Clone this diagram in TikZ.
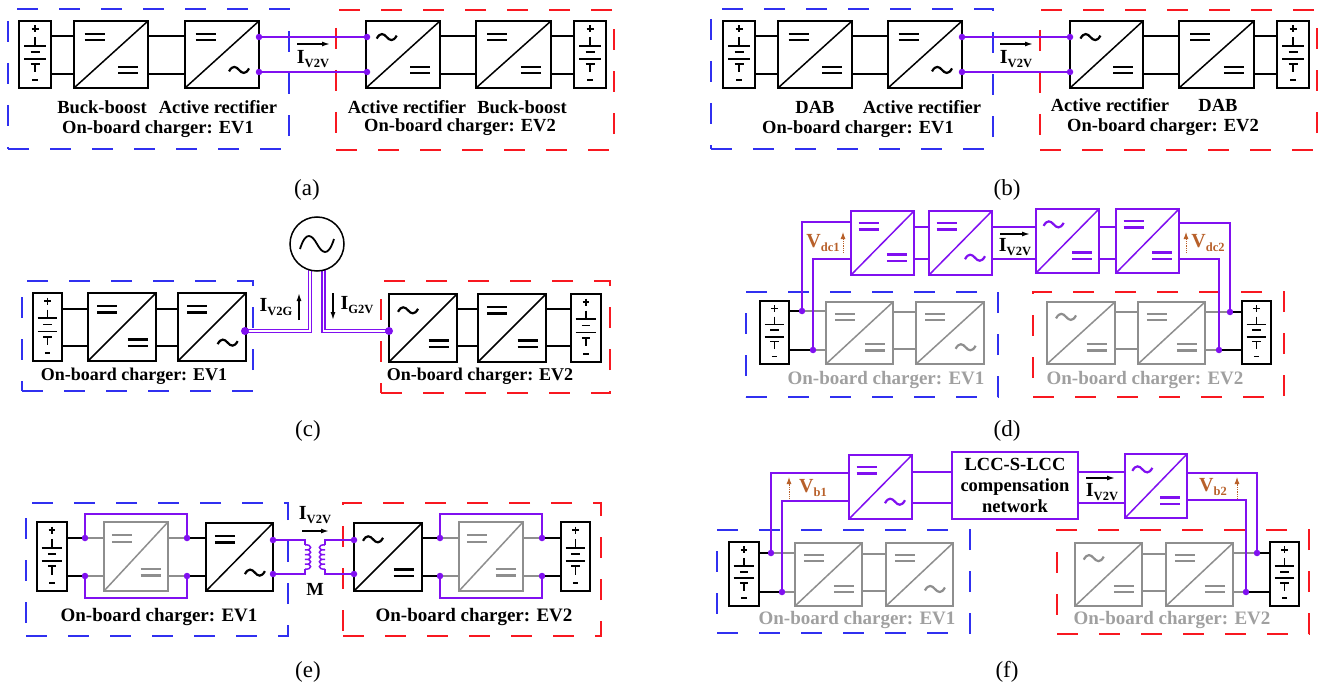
\documentclass[tikz,border=0pt]{standalone}
\usepackage{fontspec}
\setmainfont{Liberation Serif}
\usepackage{xcolor}
\usepackage{tikz}
\usetikzlibrary{calc,arrows.meta}

\definecolor{vio}{HTML}{8010F0}
\definecolor{blueframe}{HTML}{3030F0}
\definecolor{redframe}{HTML}{F81820}
\definecolor{grayline}{HTML}{8E8E8E}
\definecolor{graytext}{HTML}{A0A0A0}
\definecolor{brownv}{HTML}{B8602A}

% converter: name, x, y, w, h, colour, upper symbol, lower symbol
\newcommand{\conv}[8]{%
  \node[convbox,draw=#6,minimum width=#4,minimum height=#5] (#1) at (#2,#3) {};
  \draw[draw=#6,line width=1.5pt] (#1.south west) -- (#1.north east);
  \path ($(#1.north west)!.28!(#1.north east)$) ++(0,.24*#5) pic[color=#6] {#7};
  \path ($(#1.north west)!.73!(#1.north east)$) ++(0,.73*#5) pic[color=#6] {#8};
}
% battery: name, x, y, w, h
\newcommand{\batt}[5]{%
  \node[convbox,draw=black,minimum width=#4,minimum height=#5] (#1) at (#2,#3) {};
  \path (#1.center) pic[xscale=#4/32,yscale=#5/67] {cellsym};
}
\newcommand{\frm}[6]{\node[framebox,draw=#6,minimum width=#4,minimum height=#5] (#1) at (#2,#3) {};}
\newcommand{\pdot}[3]{\node[dotn] (#1) at (#2,#3) {};}
% two horizontal wires between nodes
\newcommand{\links}[5][wire]{%
  \draw[#1] (#2.east |- 0,#4) -- (#3.west |- 0,#4);
  \draw[#1] (#2.east |- 0,#5) -- (#3.west |- 0,#5);
}
\newcommand{\sublab}[2]{{\fontsize{20}{20}\selectfont\bfseries #1}{\fontsize{12.5}{12.5}\selectfont\bfseries\raisebox{-3.5pt}{#2}}}
\newcommand{\coil}[3]{%
  \draw[pwire] (#1,#2) .. controls +(#3,-1) and +(#3,1) .. ++(0,4.8)
    .. controls +(#3,-1) and +(#3,1) .. ++(0,4.8)
    .. controls +(#3,-1) and +(#3,1) .. ++(0,4.8)
    .. controls +(#3,-1) and +(#3,1) .. ++(0,4.8)
    .. controls +(#3,-1) and +(#3,1) .. ++(0,4.8);
}

\begin{document}
\begin{tikzpicture}[
  x=1pt,y=-1pt,
  convbox/.style={rectangle,fill=white,line width=1.5pt,anchor=north west,inner sep=0,outer sep=0},
  framebox/.style={rectangle,line width=1.3pt,dash pattern=on 21pt off 21pt,anchor=north west,inner sep=0,outer sep=0},
  dotn/.style={circle,fill=vio,inner sep=0,minimum size=6.5pt},
  wire/.style={line width=1.5pt},
  gwire/.style={line width=1.5pt,grayline},
  pwire/.style={line width=1.5pt,vio},
  pdouble/.style={draw=vio,line width=1.6pt,double=white,double distance=1.6pt},
  lab/.style={font=\bfseries\fontsize{18.5}{18.5}\selectfont},
  lablg/.style={font=\bfseries\fontsize{19}{19}\selectfont},
  labsm/.style={font=\bfseries\fontsize{18}{18}\selectfont},
  glab/.style={lablg,text=graytext},
  figcap/.style={font=\fontsize{23}{23}\selectfont},
  iarrow/.style={-{Latex[length=8pt,width=5pt]},line width=1.5pt},
  varrow/.style={-{Latex[length=7pt,width=5pt]},line width=.9pt,brownv,densely dotted},
  vlab/.style={text=brownv},
  dcsym/.pic={\draw[line width=2.2pt] (-10,-3.2) -- (10,-3.2) (-10,3.2) -- (10,3.2);},
  acsym/.pic={\draw[line width=2.2pt] (-10,1.5) .. controls (-6.5,-5) and (-3,-3.5) .. (0,0) .. controls (3,3.5) and (6.5,5) .. (10,-1.5);},
  bigac/.pic={\draw[line width=1.8pt] (-17,5) .. controls (-11,-14) and (-5,-9) .. (0,0) .. controls (5,9) and (11,14) .. (17,-5);},
  cellsym/.pic={\draw[line width=1.8pt]
    (-3.5,-25.5) -- (3.5,-25.5) (0,-29) -- (0,-22)
    (0,-17) -- (0,-8.5) (-11,-8.5) -- (11,-8.5)
    (-4.5,-2.5) -- (4.5,-2.5) (-11,4.5) -- (11,4.5)
    (-4.5,9.5) -- (4.5,9.5) (0,9.5) -- (0,18)
    (-3,25.5) -- (3,25.5);}
]
\useasboundingbox (0,0) rectangle (1318,685);

% (a) frames first, everything else on top
\frm{aev1}{8}{9}{281}{140}{blueframe}
\frm{aev2}{336}{10}{278}{140}{redframe}
\batt{abat1}{19}{21}{32}{67}
\conv{aone}{74}{21}{74}{67}{black}{dcsym}{dcsym}
\conv{atwo}{185}{21}{74}{67}{black}{dcsym}{acsym}
\conv{athree}{366}{21}{74}{67}{black}{acsym}{dcsym}
\conv{afour}{476}{21}{75}{67}{black}{dcsym}{dcsym}
\batt{abat2}{574}{21}{32}{67}
\links{abat1}{aone}{36}{74}
\links{aone}{atwo}{36}{74}
\links{athree}{afour}{36}{74}
\links{afour}{abat2}{36}{74}
\pdot{ad1}{259}{37}\pdot{ad2}{259}{72}\pdot{ad3}{367}{37}\pdot{ad4}{367}{72}
\draw[pwire] (ad1) -- (ad3);
\draw[pwire] (ad2) -- (ad4);
\coordinate (aia) at (297,44);
\coordinate (aib) at (330,44);
\draw[iarrow] (aia) -- (aib);
\node (aicur) at (313,59) {\sublab{I}{V2V}};
\node[lab] (abb1) at (102,107) {Buck-boost};
\node[lab] (aar1) at (218,107) {Active rectifier};
\node[lab] (acap1) at (158,129) {On-board charger: EV1};
\node[lab] (aar2) at (407,107) {Active rectifier};
\node[lab] (abb2) at (522,107) {Buck-boost};
\node[lab] (acap2) at (460,127) {On-board charger: EV2};
\node[figcap] (capa) at (307,190) {(a)};

% (b)
\frm{bev1}{711}{9}{282}{140}{blueframe}
\frm{bev2}{1040}{10}{277}{140}{redframe}
\batt{bbat1}{723}{21}{32}{67}
\conv{bone}{778}{21}{74}{67}{black}{dcsym}{dcsym}
\conv{btwo}{888}{21}{74}{67}{black}{dcsym}{acsym}
\conv{bthree}{1070}{21}{73}{67}{black}{acsym}{dcsym}
\conv{bfour}{1179}{21}{75}{67}{black}{dcsym}{dcsym}
\batt{bbat2}{1277}{21}{32}{67}
\links{bbat1}{bone}{36}{74}
\links{bone}{btwo}{36}{74}
\links{bthree}{bfour}{36}{74}
\links{bfour}{bbat2}{36}{74}
\pdot{bd1}{962}{37}\pdot{bd2}{962}{72}\pdot{bd3}{1070}{37}\pdot{bd4}{1070}{72}
\draw[pwire] (bd1) -- (bd3);
\draw[pwire] (bd2) -- (bd4);
\coordinate (bia) at (1000,44);
\coordinate (bib) at (1033,44);
\draw[iarrow] (bia) -- (bib);
\node (bicur) at (1016,59) {\sublab{I}{V2V}};
\node[lab] (bdab1) at (815,107) {DAB};
\node[lab] (bar1) at (922,107) {Active rectifier};
\node[lab] (bcap1) at (858,129) {On-board charger: EV1};
\node[lab] (bar2) at (1110,105) {Active rectifier};
\node[lab] (bdab2) at (1218,105) {DAB};
\node[lab] (bcap2) at (1163,127) {On-board charger: EV2};
\node[figcap] (capb) at (1007,190) {(b)};

% (c) grid link
\frm{cev1}{22}{281}{231}{110}{blueframe}
\frm{cev2}{381}{281}{229}{112}{redframe}
\batt{cbat1}{33}{293}{29}{68}
\conv{cone}{88}{293}{68}{68}{black}{dcsym}{dcsym}
\conv{ctwo}{178}{293}{68}{68}{black}{dcsym}{acsym}
\conv{cthree}{389}{294}{68}{68}{black}{acsym}{dcsym}
\conv{cfour}{478}{294}{68}{68}{black}{dcsym}{dcsym}
\batt{cbat2}{571}{294}{30}{68}
\links{cbat1}{cone}{309}{346}
\links{cone}{ctwo}{309}{346}
\links{cthree}{cfour}{309}{346}
\links{cfour}{cbat2}{309}{346}
\coordinate (cupa) at (310,268);
\coordinate (cupb) at (323.5,268);
\draw[pdouble] (ctwo.east |- 0,331) -| (cupa);
\draw[pdouble] (cthree.west |- 0,331) -| (cupb);
\node[circle,draw,fill=white,line width=1.5pt,minimum size=54pt,inner sep=0] (grid) at (317,244) {};
\path (grid.center) pic {bigac};
\node[dotn,minimum size=8pt] (cd1) at (245,331) {};
\node[dotn,minimum size=8pt] (cd2) at (389,331) {};
\coordinate (cia) at (299,320);
\coordinate (cib) at (299,293);
\draw[iarrow] (cia) -- (cib);
\coordinate (cic) at (333,293);
\coordinate (cid) at (333,320);
\draw[iarrow] (cic) -- (cid);
\node (cv2g) at (276,307) {\sublab{I}{V2G}};
\node (cg2v) at (357,305) {\sublab{I}{G2V}};
\node[labsm] (ccap1) at (134,376) {On-board charger: EV1};
\node[labsm] (ccap2) at (480,376) {On-board charger: EV2};
\node[figcap] (capc) at (308,431) {(c)};

% (d) dc link, on-board stages unused
\frm{dev1}{746}{292}{252}{105}{blueframe}
\frm{dev2}{1033}{292}{251}{105}{redframe}
\batt{dbat1}{760}{301}{29}{63}
\conv{dgone}{826}{302}{67}{62}{grayline}{dcsym}{dcsym}
\conv{dgtwo}{916}{302}{68}{62}{grayline}{dcsym}{acsym}
\conv{dgthree}{1047}{302}{68}{62}{grayline}{acsym}{dcsym}
\conv{dgfour}{1138}{302}{67}{62}{grayline}{dcsym}{dcsym}
\batt{dbat2}{1242}{301}{29}{63}
\conv{done}{851}{211}{63}{64}{vio}{dcsym}{dcsym}
\conv{dtwo}{929}{211}{63}{64}{vio}{dcsym}{acsym}
\conv{dthree}{1036}{209}{63}{64}{vio}{acsym}{dcsym}
\conv{dfour}{1116}{209}{63}{64}{vio}{dcsym}{dcsym}
\links[gwire]{dgone}{dgtwo}{312}{349}
\links[gwire]{dgthree}{dgfour}{312}{349}
\pdot{dd1}{802}{311}\pdot{dd2}{813}{350}\pdot{dd3}{1230}{312}\pdot{dd4}{1219}{350}
\draw[wire] (dbat1.east |- dd1) -- (dd1);
\draw[wire] (dbat1.east |- dd2) -- (dd2);
\draw[gwire] (dd1) -- (dgone.west |- dd1);
\draw[gwire] (dd2) -- (dgone.west |- dd2);
\draw[gwire] (dgfour.east |- dd3) -- (dd3);
\draw[gwire] (dgfour.east |- dd4) -- (dd4);
\draw[wire] (dd3) -- (dbat2.west |- dd3);
\draw[wire] (dd4) -- (dbat2.west |- dd4);
\draw[pwire] (done.west |- 0,222) -| (dd1);
\draw[pwire] (done.west |- 0,259) -| (dd2);
\draw[pwire] (dfour.east |- 0,223) -| (dd3);
\draw[pwire] (dfour.east |- 0,259) -| (dd4);
\links[pwire]{done}{dtwo}{227}{259}
\links[pwire]{dtwo}{dthree}{227}{259}
\links[pwire]{dthree}{dfour}{227}{259}
\coordinate (dia) at (1000,234);
\coordinate (dib) at (1030,234);
\draw[iarrow] (dia) -- (dib);
\node (dicur) at (1015,247) {\sublab{I}{V2V}};
\coordinate (dva) at (843,253);
\coordinate (dvb) at (843,232);
\draw[varrow] (dva) -- (dvb);
\coordinate (dvc) at (1186,253);
\coordinate (dvd) at (1186,232);
\draw[varrow] (dvc) -- (dvd);
\node[vlab] (dv1) at (823,243) {\sublab{V}{dc1}};
\node[vlab] (dv2) at (1208,243) {\sublab{V}{dc2}};
\node[glab] (dcap1) at (886,380) {On-board charger: EV1};
\node[glab] (dcap2) at (1145,380) {On-board charger: EV2};
\node[figcap] (capd) at (1007,431) {(d)};

% (e) inductive link between the two ac stages
\frm{eev1}{26}{503}{262}{133}{blueframe}
\frm{eev2}{343}{503}{258}{133}{redframe}
\batt{ebat1}{37}{522}{30}{69}
\conv{egone}{104}{522}{64}{69}{grayline}{dcsym}{dcsym}
\conv{etwo}{206}{523}{67}{68}{black}{dcsym}{acsym}
\conv{ethree}{354}{523}{68}{68}{black}{acsym}{dcsym}
\conv{egfour}{459}{522}{64}{69}{grayline}{dcsym}{dcsym}
\batt{ebat2}{561}{522}{29}{69}
\pdot{ed1}{85}{538}\pdot{ed2}{85}{576}\pdot{ed3}{187}{538}\pdot{ed4}{187}{576}
\pdot{ed5}{440}{538}\pdot{ed6}{440}{576}\pdot{ed7}{542}{538}\pdot{ed8}{542}{576}
\pdot{ed9}{273}{540}\pdot{ed10}{273}{574}\pdot{ed11}{354}{540}\pdot{ed12}{354}{574}
\draw[wire] (ebat1.east |- ed1) -- (ed1);
\draw[wire] (ebat1.east |- ed2) -- (ed2);
\draw[gwire] (ed1) -- (egone.west |- ed1);
\draw[gwire] (ed2) -- (egone.west |- ed2);
\draw[gwire] (egone.east |- ed3) -- (ed3);
\draw[gwire] (egone.east |- ed4) -- (ed4);
\draw[wire] (ed3) -- (etwo.west |- ed3);
\draw[wire] (ed4) -- (etwo.west |- ed4);
\draw[wire] (ethree.east |- ed5) -- (ed5);
\draw[wire] (ethree.east |- ed6) -- (ed6);
\draw[gwire] (ed5) -- (egfour.west |- ed5);
\draw[gwire] (ed6) -- (egfour.west |- ed6);
\draw[gwire] (egfour.east |- ed7) -- (ed7);
\draw[gwire] (egfour.east |- ed8) -- (ed8);
\draw[wire] (ed7) -- (ebat2.west |- ed7);
\draw[wire] (ed8) -- (ebat2.west |- ed8);
\draw[pwire] (ed1) |- (85,514) -| (ed3);
\draw[pwire] (ed2) |- (85,598) -| (ed4);
\draw[pwire] (ed5) |- (440,514) -| (ed7);
\draw[pwire] (ed6) |- (440,598) -| (ed8);
\coordinate (ela) at (305,545);
\coordinate (elb) at (305,569);
\coordinate (era) at (325,545);
\coordinate (erb) at (325,569);
\draw[pwire] (ed9) -| (ela);
\draw[pwire] (ed10) -| (elb);
\draw[pwire] (ed11) -| (era);
\draw[pwire] (ed12) -| (erb);
\coil{305}{545}{7.5}
\coil{325}{545}{-7.5}
\coordinate (eia) at (302,531);
\coordinate (eib) at (329,531);
\draw[iarrow] (eia) -- (eib);
\node (eicur) at (315,515) {\sublab{I}{V2V}};
\node[lab] (em) at (315,589) {M};
\node[lablg] (ecap1) at (159,617) {On-board charger: EV1};
\node[lablg] (ecap2) at (474,617) {On-board charger: EV2};
\node[figcap] (cape) at (308,672) {(e)};

% (f) wireless path through the compensation network
\frm{fev1}{717}{530}{253}{103}{blueframe}
\frm{fev2}{1057}{530}{252}{104}{redframe}
\batt{fbat1}{729}{542}{30}{64}
\conv{fgone}{795}{543}{67}{63}{grayline}{dcsym}{dcsym}
\conv{fgtwo}{886}{543}{67}{63}{grayline}{dcsym}{acsym}
\conv{fgthree}{1075}{543}{67}{63}{grayline}{acsym}{dcsym}
\conv{fgfour}{1166}{543}{67}{63}{grayline}{dcsym}{dcsym}
\batt{fbat2}{1270}{542}{29}{64}
\conv{fone}{849}{455}{63}{64}{vio}{dcsym}{acsym}
\conv{ftwo}{1125}{454}{62}{64}{vio}{acsym}{dcsym}
\node[convbox,draw=vio,minimum width=126,minimum height=67,align=center,font=\bfseries\fontsize{18.5}{21}\selectfont] (lcc) at (952,452) {LCC-S-LCC\\compensation\\network};
\links[gwire]{fgone}{fgtwo}{554}{591}
\links[gwire]{fgthree}{fgfour}{554}{591}
\pdot{fd1}{771}{553}\pdot{fd2}{782}{592}\pdot{fd3}{1257}{553}\pdot{fd4}{1246}{592}
\draw[wire] (fbat1.east |- fd1) -- (fd1);
\draw[wire] (fbat1.east |- fd2) -- (fd2);
\draw[gwire] (fd1) -- (fgone.west |- fd1);
\draw[gwire] (fd2) -- (fgone.west |- fd2);
\draw[gwire] (fgfour.east |- fd3) -- (fd3);
\draw[gwire] (fgfour.east |- fd4) -- (fd4);
\draw[wire] (fd3) -- (fbat2.west |- fd3);
\draw[wire] (fd4) -- (fbat2.west |- fd4);
\draw[pwire] (fone.west |- 0,473) -| (fd1);
\draw[pwire] (fone.west |- 0,501) -| (fd2);
\draw[pwire] (ftwo.east |- 0,473) -| (fd3);
\draw[pwire] (ftwo.east |- 0,500) -| (fd4);
\links[pwire]{fone}{lcc}{472}{503}
\links[pwire]{lcc}{ftwo}{472}{503}
\coordinate (fia) at (1086,478);
\coordinate (fib) at (1115,478);
\draw[iarrow] (fia) -- (fib);
\node (ficur) at (1102,492) {\sublab{I}{V2V}};
\coordinate (fva) at (789,499);
\coordinate (fvb) at (789,477);
\draw[varrow] (fva) -- (fvb);
\coordinate (fvc) at (1237,499);
\coordinate (fvd) at (1237,477);
\draw[varrow] (fvc) -- (fvd);
\node[vlab] (fv1) at (813,488) {\sublab{V}{b1}};
\node[vlab] (fv2) at (1213,487) {\sublab{V}{b2}};
\node[glab] (fcap1) at (857,620) {On-board charger: EV1};
\node[glab] (fcap2) at (1172,620) {On-board charger: EV2};
\node[figcap] (capf) at (1007,672) {(f)};
\end{tikzpicture}
\end{document}
